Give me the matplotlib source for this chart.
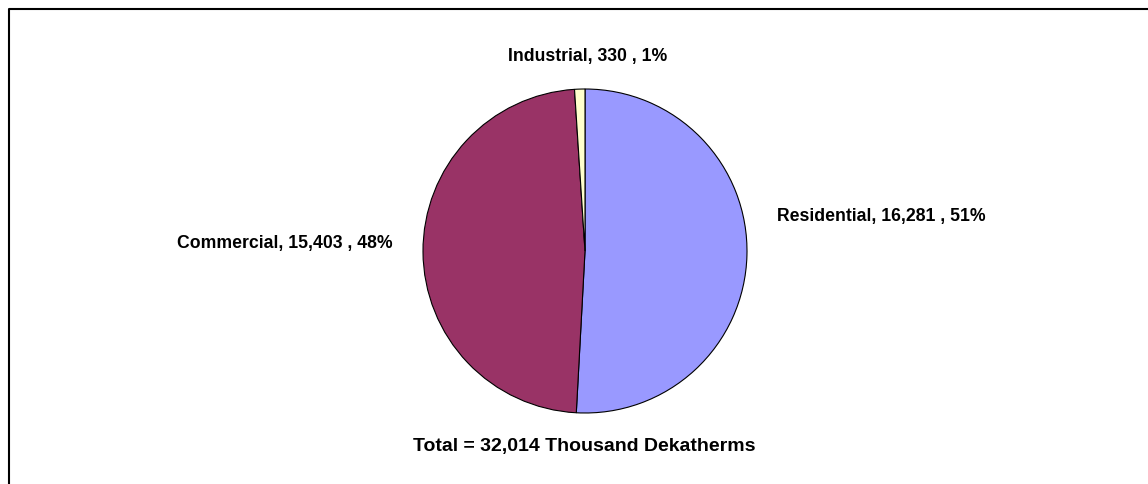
import matplotlib.pyplot as plt

categories = ["Residential", "Commercial", "Industrial"]
values = [16281, 15403, 330]
colors = ["#9999FF", "#993366", "#FFFFCC"]
total = sum(values)

W, H = 1148, 485
fig = plt.figure(figsize=(W / 100, H / 100), dpi=100)
ax = fig.add_axes([0, 0, 1, 1])

ax.pie(
    values,
    colors=colors,
    startangle=90,
    counterclock=False,
    center=(585, H - 252),
    radius=162,
    wedgeprops=dict(edgecolor="black", linewidth=0.8),
    frame=True,
)
ax.set_xlim(0, W)
ax.set_ylim(0, H)
ax.set_aspect("equal")
ax.axis("off")

# frame (cut off on right and bottom)
ax.plot([8.5, 8.5, W + 5], [-5, H - 10, H - 10], color="black", lw=1.5,
        clip_on=False)

font = dict(family="Liberation Sans", weight="bold", size=12.7, color="black")
labels = [
    f"{c}, {v:,} , {round(100 * v / total)}%" for c, v in zip(categories, values)
]
ax.text(777, H - 216, labels[0], ha="left", va="center", **font)
ax.text(393, H - 244, labels[1], ha="right", va="center", **font)
ax.text(588, H - 56, labels[2], ha="center", va="center", **font)
ax.text(584, H - 447, f"Total = {total:,} Thousand Dekatherms",
        ha="center", va="center", **{**font, "size": 14})

fig.savefig("out.png", dpi=100)
